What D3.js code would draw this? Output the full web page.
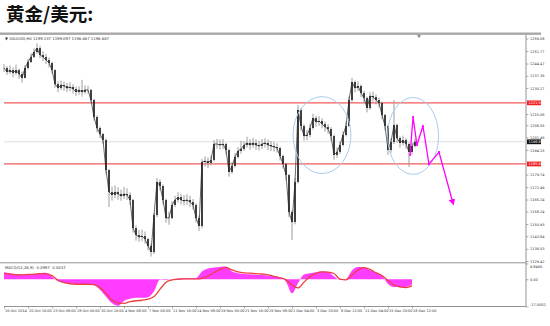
<!DOCTYPE html>
<html>
<head>
<meta charset="utf-8">
<script src="https://cdn.jsdelivr.net/npm/d3@7/dist/d3.min.js"></script>
<style>
body { margin: 0; background: #fff; }
svg { display: block; font-family: "DejaVu Sans", sans-serif; }
</style>
</head>
<body>
<div id="chartContainer"></div>
<script>
var width = 550;
var height = 326;

// XAUUSD H4, one sample every 2 bars
var closes = [
  1241.9,1239.6,1240.7,1239.0,1240.7,1238.4,1236.1,1241.9,1245.4,1248.3,
  1251.2,1253.5,1249.5,1248.3,1246.6,1244.8,1240.7,1232.6,1230.2,1232.0,
  1231.4,1230.2,1230.8,1229.7,1227.9,1229.1,1227.9,1229.1,1229.1,1223.2,
  1213.3,1206.9,1203.4,1199.9,1182.4,1169.6,1167.9,1169.6,1168.5,1167.3,
  1168.5,1167.9,1165.0,1148.6,1144.6,1143.4,1144.0,1142.2,1138.2,1134.7,
  1156.2,1175.5,1173.1,1165.0,1154.5,1154.5,1162.0,1165.0,1166.7,1165.0,
  1164.4,1165.0,1163.8,1162.0,1154.5,1149.8,1187.1,1187.7,1186.5,1188.3,
  1197.6,1197.6,1197.0,1197.6,1194.1,1181.3,1184.8,1190.0,1193.5,1194.7,
  1197.0,1198.2,1197.0,1198.2,1197.0,1196.4,1197.6,1198.2,1197.0,1196.4,
  1195.9,1195.3,1190.6,1185.9,1179.5,1158.0,1152.1,1175.5,1217.4,1208.1,
  1202.3,1202.8,1206.9,1212.8,1210.4,1211.0,1209.3,1207.5,1206.3,1202.3,
  1191.2,1192.9,1197.0,1202.8,1208.1,1223.2,1233.7,1230.2,1231.4,1227.3,
  1224.4,1218.6,1225.6,1225.0,1223.2,1221.5,1214.5,1208.1,1194.1,1198.8,
  1208.7,1201.1,1198.2,1199.9,1197.6,1192.9,1196.4,1198.9
];
var highs = [
  1244.0,1243.0,1243.5,1242.2,1243.8,1241.5,1239.8,1243.6,1247.3,1250.6,
  1253.4,1256.2,1254.8,1251.6,1249.9,1248.0,1245.5,1241.2,1234.0,1234.6,
  1233.9,1233.1,1233.5,1232.4,1231.0,1231.2,1235.0,1231.8,1231.5,1229.8,
  1223.9,1214.2,1207.8,1204.0,1200.8,1183.0,1172.8,1173.5,1172.4,1171.0,
  1172.6,1171.8,1169.4,1165.8,1150.2,1147.5,1147.8,1146.6,1143.0,1139.5,
  1157.5,1177.8,1177.0,1174.0,1165.8,1158.2,1164.3,1167.4,1169.5,1168.6,
  1167.8,1168.3,1167.4,1165.5,1163.0,1156.0,1189.0,1190.4,1189.8,1191.0,
  1199.8,1200.6,1200.2,1200.5,1198.4,1195.0,1187.2,1192.3,1195.8,1199.5,
  1199.3,1201.8,1200.4,1201.2,1200.3,1199.6,1200.5,1201.0,1200.2,1199.3,
  1198.9,1198.0,1196.0,1191.4,1186.8,1180.2,1159.0,1177.6,1220.3,1218.5,
  1209.2,1205.6,1209.4,1215.2,1214.0,1213.8,1212.6,1210.8,1209.2,1207.4,
  1203.0,1195.6,1199.2,1205.0,1210.6,1225.4,1236.1,1234.6,1234.2,1232.3,
  1228.6,1225.3,1227.8,1228.2,1226.4,1224.6,1222.4,1215.3,1209.0,1201.0,
  1223.2,1209.5,1202.0,1202.5,1201.0,1198.4,1198.6,1200.8
];
var lows = [
  1239.5,1237.8,1238.2,1236.5,1237.9,1235.6,1233.4,1235.8,1241.0,1244.8,
  1247.5,1250.3,1247.6,1246.0,1244.1,1242.3,1238.6,1230.4,1227.8,1229.1,
  1228.7,1228.0,1228.3,1227.0,1225.6,1226.4,1225.2,1226.7,1227.0,1221.5,
  1211.2,1204.5,1201.0,1197.5,1180.0,1160.9,1164.6,1166.0,1165.2,1164.5,
  1165.6,1165.0,1162.1,1146.0,1141.3,1140.6,1141.0,1139.5,1135.6,1132.0,
  1133.5,1155.0,1170.6,1162.4,1151.8,1150.5,1153.6,1160.8,1163.5,1162.3,
  1161.7,1162.0,1160.9,1159.4,1152.0,1147.0,1148.5,1184.5,1183.6,1185.2,
  1187.5,1194.9,1194.3,1194.6,1191.4,1178.6,1180.2,1183.9,1189.2,1192.0,
  1193.6,1195.5,1194.2,1195.4,1194.3,1193.8,1194.7,1195.6,1194.1,1193.5,
  1193.2,1192.6,1188.0,1183.2,1176.5,1155.0,1141.6,1150.8,1174.6,1205.4,
  1199.6,1199.8,1201.5,1206.0,1207.6,1208.2,1206.7,1204.8,1203.6,1199.5,
  1188.4,1189.6,1191.8,1196.2,1202.0,1207.4,1222.0,1227.6,1228.5,1224.8,
  1221.8,1216.0,1217.5,1222.3,1220.6,1218.8,1212.0,1205.5,1191.2,1192.5,
  1197.6,1198.4,1195.5,1196.8,1194.8,1184.2,1191.5,1195.6
];

// MACD(12,26,9), one sample every 4 bars
var macdMain = [
  4.4,3.8,3.3,3.0,2.8,2.9,3.8,4.0,1.6,-1.2,
  -2.2,-2.7,-2.9,-3.0,-3.2,-3.6,-6.5,-10.9,-15.0,-16.5,
  -13.5,-12.2,-11.6,-11.6,-11.2,-7.5,-0.2,-0.4,0.2,0.4,
  0.6,0.6,0.8,4.8,6.7,7.4,7.7,7.9,4.8,3.8,
  3.3,3.1,2.9,2.6,2.2,1.8,1.2,-1.5,-8.8,-2.5,
  3.0,3.8,4.4,4.8,4.5,1.8,-0.3,0.2,5.5,7.6,
  7.5,5.6,4.4,2.3,-3.0,-4.9,-5.0,-4.8,-3.3
];
var macdSignal = [
  3.7,3.2,2.8,2.8,3.0,3.1,3.5,3.4,2.3,-0.6,
  -2.1,-2.8,-3.1,-3.1,-3.1,-3.4,-5.2,-8.8,-12.9,-14.8,
  -15.0,-14.0,-13.4,-13.1,-12.4,-10.8,-6.2,-1.9,-0.4,0.0,
  0.2,0.2,0.2,0.6,2.0,4.2,6.2,7.3,5.8,4.6,
  4.0,3.8,3.5,3.3,2.8,1.8,0.9,-0.4,-3.6,-5.4,
  -1.8,1.8,3.7,4.6,4.5,3.6,0.1,-0.4,2.7,5.6,
  7.3,6.2,4.0,2.3,-0.8,-3.6,-4.7,-5.2,-4.0
];

var dateLabels = ["16 Oct 2014","20 Oct 16:00","23 Oct 08:00","28 Oct 00:00","30 Oct 16:00",
  "4 Nov 08:00","7 Nov 00:00","11 Nov 16:00","14 Nov 08:00","19 Nov 00:00","21 Nov 16:00",
  "26 Nov 08:00","1 Dec 04:00","3 Dec 20:00","8 Dec 12:00","11 Dec 04:00","15 Dec 20:00","18 Dec 12:00"];
var priceTicks = [1259.08,1251.77,1244.47,1237.36,1230.27,1215.06,1208.55,1201.46,1194.15,
  1179.74,1172.49,1165.24,1158.24,1150.93,1143.84,1136.53,1129.42];
var macdTicks = [9.8466, 0, -17.0002];
var macdTickLabels = ["9.8466", "0.00", "-17.0002"];

// support / resistance and last bid
var levelLines = [1221.59, 1185.97];
var lastPrice = 1198.887;

// hand drawn forecast (bar index, price)
var forecastBars = [270.7, 272.7, 275.3, 279.3, 283.3, 290, 299.3];
var forecastPrices = [1191.2, 1213.3, 1197.0, 1208.1, 1185.9, 1192.9, 1163.2];

// circled zones
var zoneBars = [212, 272.7];
var zonePrices = [1202.8, 1202.3];
var zoneHalfBars = [19.3, 17];
var zoneHalfPrices = [22.4, 22.4];

var svg = d3.select('#chartContainer')
  .append('svg')
  .attr("width", width)
  .attr("height", height);

var plotLeft = 4, plotRight = 526;
var tinyFont = 3.5;

var x = d3.scaleLinear().domain([0, 274]).range([4, 415]);
var y = d3.scaleLinear().domain([1129.42, 1259.08]).range([261, 38.5]);
var yMacd = d3.scaleLinear().domain([-17.0002, 9.8466]).range([306.5, 263.5]);

/***** Title and frame *****/
svg.append("text")
  .attr("x", 6).attr("y", 21)
  .style("font-family", "'Noto Sans CJK SC', sans-serif")
  .style("font-weight", "bold")
  .style("font-size", "18.5px")
  .attr("fill", "#111")
  .text("黄金/美元:");

svg.append("rect")
  .attr("x", 0).attr("y", 32.5)
  .attr("width", 541).attr("height", 2.4)
  .attr("fill", "#a8a8a8");

svg.append("path")
  .attr("d", d3.symbol(d3.symbolTriangle, 6)())
  .attr("transform", "translate(419,36) rotate(180)")
  .attr("fill", "#888");

svg.append("text")
  .attr("x", 5).attr("y", 39.5)
  .attr("font-size", 3.8).attr("fill", "#333")
  .text("▼ XAUUSD,H4  1199.137 1199.097 1198.887 1198.887");

// panel borders
svg.append("line")
  .attr("x1", plotRight).attr("x2", plotRight)
  .attr("y1", 35).attr("y2", 306.5)
  .attr("stroke", "#777").attr("stroke-width", 0.8);
svg.append("line")
  .attr("x1", 0).attr("x2", plotRight)
  .attr("y1", 262.8).attr("y2", 262.8)
  .attr("stroke", "#777").attr("stroke-width", 0.8);
svg.append("line")
  .attr("x1", plotLeft).attr("x2", plotRight)
  .attr("y1", 306.5).attr("y2", 306.5)
  .attr("stroke", "#777").attr("stroke-width", 0.8);

/***** Level lines *****/
svg.append("line")
  .attr("x1", plotLeft).attr("x2", plotRight)
  .attr("y1", y(lastPrice)).attr("y2", y(lastPrice))
  .attr("stroke", "#d6d6d6").attr("stroke-width", 0.8);

svg.selectAll(".level")
  .data(levelLines)
  .enter().append("line")
  .attr("class", "level")
  .attr("x1", plotLeft).attr("x2", plotRight)
  .attr("y1", (d) => y(d)).attr("y2", (d) => y(d))
  .attr("stroke", "#f25a5a").attr("stroke-width", 1.2);

/***** Candles *****/
var candles = svg.append("g").attr("id", "candles");
candles.selectAll(".wick")
  .data(closes)
  .enter().append("line")
  .attr("class", "wick")
  .attr("x1", (d, i) => x(i * 2)).attr("x2", (d, i) => x(i * 2))
  .attr("y1", (d, i) => y(highs[i])).attr("y2", (d, i) => y(lows[i]))
  .attr("stroke", "#9c9c9c").attr("stroke-width", 1);

candles.selectAll(".body")
  .data(closes)
  .enter().append("line")
  .attr("class", "body")
  .attr("x1", (d, i) => x(i * 2)).attr("x2", (d, i) => x(i * 2))
  .attr("y1", (d, i) => y(i === 0 ? d : closes[i - 1]))
  .attr("y2", (d) => y(d))
  .attr("stroke", "#1c1c1c").attr("stroke-width", 1.6);

candles.append("path")
  .datum(closes)
  .attr("fill", "none")
  .attr("stroke", "#2a2a2a").attr("stroke-width", 0.7)
  .attr("d", d3.line().x((d, i) => x(i * 2)).y((d) => y(d)));

/***** Zones *****/
svg.selectAll(".zone")
  .data(zoneBars)
  .enter().append("ellipse")
  .attr("class", "zone")
  .attr("cx", (d) => x(d))
  .attr("cy", (d, i) => y(zonePrices[i]))
  .attr("rx", (d, i) => x(zoneHalfBars[i]) - x(0))
  .attr("ry", (d, i) => y(zonePrices[i] - zoneHalfPrices[i]) - y(zonePrices[i]))
  .attr("fill", "none")
  .attr("stroke", "#a9cdee").attr("stroke-width", 1);

/***** Forecast arrow *****/
svg.append("defs").append("marker")
  .attr("id", "arrow")
  .attr("viewBox", "0 0 10 10")
  .attr("refX", 6).attr("refY", 5)
  .attr("markerWidth", 5).attr("markerHeight", 5)
  .attr("orient", "auto")
  .append("path")
  .attr("d", "M0,0L10,5L0,10z")
  .attr("fill", "#ff00ff");

svg.append("path")
  .datum(forecastBars)
  .attr("fill", "none")
  .attr("stroke", "#ff00ff").attr("stroke-width", 1.3)
  .attr("marker-end", "url(#arrow)")
  .attr("d", d3.line().x((d) => x(d)).y((d, i) => y(forecastPrices[i])));

svg.selectAll(".fdot")
  .data(forecastBars.slice(0, -1))
  .enter().append("circle")
  .attr("class", "fdot")
  .attr("cx", (d) => x(d))
  .attr("cy", (d, i) => y(forecastPrices[i]))
  .attr("r", 1.1)
  .attr("fill", "#ff00ff");

/***** MACD panel *****/
var macdX = (d, i) => x(i * 4);

svg.append("path")
  .datum(macdMain)
  .attr("fill", "#ff3cff")
  .attr("d", d3.area().curve(d3.curveMonotoneX)
    .x(macdX).y0(yMacd(0)).y1((d) => yMacd(d)));

svg.append("path")
  .datum(macdSignal)
  .attr("fill", "none")
  .attr("stroke", "#ee4040").attr("stroke-width", 1.3)
  .attr("d", d3.line().curve(d3.curveMonotoneX).x(macdX).y((d) => yMacd(d)));

svg.append("text")
  .attr("x", 5).attr("y", 268.5)
  .attr("font-size", 3.8).attr("fill", "#333")
  .text("MACD(12,26,9) -3.2997 -4.0237");

/***** Axes *****/
var yAxisGroup = svg.append('g').attr("transform", "translate(" + plotRight + ",0)");
d3.axisRight(y).tickValues(priceTicks).tickSize(2.5).tickPadding(1.5)
  .tickFormat(d3.format(".2f"))(yAxisGroup);

var macdAxisGroup = svg.append('g').attr("transform", "translate(" + plotRight + ",0)");
d3.axisRight(yMacd).tickValues(macdTicks).tickSize(2.5).tickPadding(1.5)
  .tickFormat((d, i) => macdTickLabels[i])(macdAxisGroup);

var xAxisGroup = svg.append('g').attr("transform", "translate(0,306.5)");
d3.axisBottom(x).tickValues(d3.range(0, 273, 16)).tickSize(2).tickPadding(1)
  .tickFormat((d, i) => dateLabels[i])(xAxisGroup);

[yAxisGroup, macdAxisGroup, xAxisGroup].forEach((g) => {
  g.select(".domain").remove();
  g.attr("font-size", tinyFont).attr("font-family", "'DejaVu Sans', sans-serif");
  g.selectAll("line").attr("stroke", "#777").attr("stroke-width", 0.6);
  g.selectAll("text").attr("fill", "#333");
});
xAxisGroup.selectAll("text").attr("text-anchor", "start").attr("dx", 0.5);
// keep the MACD extreme labels inside the panel
macdAxisGroup.selectAll("text")
  .attr("dy", (d, i) => i === 0 ? "1.1em" : (i === 2 ? "-0.3em" : "0.32em"));

/***** Price tags on the right axis *****/
var tagPrices = [levelLines[0], lastPrice, levelLines[1]];
var tagColors = ["#f02020", "#111", "#f02020"];
var tags = svg.append("g").selectAll("g")
  .data(tagPrices)
  .enter().append("g")
  .attr("transform", (d) => "translate(" + (plotRight + 1) + "," + y(d) + ")");
tags.append("rect")
  .attr("x", 0).attr("y", -2.4)
  .attr("width", 14).attr("height", 4.8)
  .attr("fill", (d, i) => tagColors[i]);
tags.append("text")
  .attr("x", 1.5).attr("y", 1.3)
  .attr("font-size", tinyFont).attr("fill", "#fff")
  .text((d) => d3.format(".2f")(d));
</script>
</body>
</html>
